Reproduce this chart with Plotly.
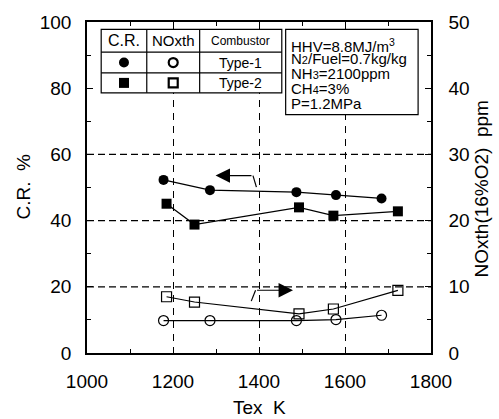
import plotly.graph_objects as go

# Exhaust temperature [K] and measured values
tex_type1 = [1178, 1286, 1487, 1579, 1685]
cr_type1 = [52.3, 49.2, 48.6, 47.7, 46.7]
nox_type1 = [4.9, 4.9, 4.9, 5.05, 5.7]

tex_type2 = [1185, 1250, 1493, 1573, 1723]
cr_type2 = [45.1, 38.8, 44.0, 41.5, 42.8]
nox_type2 = [8.5, 7.7, 5.9, 6.65, 9.45]

x_ticks = [1000, 1200, 1400, 1600, 1800]
cr_ticks = [0, 20, 40, 60, 80, 100]
nox_ticks = [0, 10, 20, 30, 40, 50]

SMALL = "<span style='font-size:11px'>{}</span>"
conditions = [
    "HHV=8.8MJ/m<sup>3</sup>",
    "N" + SMALL.format("2") + "/Fuel=0.7kg/kg",
    "NH" + SMALL.format("3") + "=2100ppm",
    "CH" + SMALL.format("4") + "=3%",
    "P=1.2MPa",
]

FONT = "Arial, Liberation Sans, sans-serif"
BLACK = "black"

W, H = 499, 419
L, R, T, B = 87, 68, 17, 66
pw, ph = W - L - R, H - T - B


def px_to_paper(px, py):
    """Pixel position in the figure -> paper coordinates of the plot area."""
    return (px - L) / pw, (H - B - py) / ph


fig = go.Figure()

line_style = dict(color=BLACK, width=1.2)
fig.add_trace(go.Scatter(x=tex_type1, y=cr_type1, mode="lines+markers", line=line_style,
                         marker=dict(symbol="circle", size=10, color=BLACK), yaxis="y"))
fig.add_trace(go.Scatter(x=tex_type2, y=cr_type2, mode="lines+markers", line=line_style,
                         marker=dict(symbol="square", size=10, color=BLACK), yaxis="y"))
fig.add_trace(go.Scatter(x=tex_type1, y=nox_type1, mode="lines+markers", line=line_style,
                         marker=dict(symbol="circle-open", size=10, color=BLACK,
                                     line=dict(width=1.2, color=BLACK)), yaxis="y2"))
fig.add_trace(go.Scatter(x=tex_type2, y=nox_type2, mode="lines+markers", line=line_style,
                         marker=dict(symbol="square-open", size=10, color=BLACK,
                                     line=dict(width=1.2, color=BLACK)), yaxis="y2"))

shapes = []
# horizontal dashed grid lines
for v in [20, 40, 60]:
    shapes.append(dict(type="line", xref="x", yref="y", x0=1000, x1=1800, y0=v, y1=v,
                       line=dict(color=BLACK, width=1.2, dash="7px,4px"), layer="below"))

# legend table
tx0, tx1, tx2, tx3 = 1033, 1139, 1262, 1453
ty0, ty1, ty2, ty3 = 97.8, 90.9, 84.6, 78.6
shapes.append(dict(type="rect", xref="x", yref="y", x0=tx0, x1=tx3, y0=ty3, y1=ty0,
                   fillcolor="white", line=dict(color=BLACK, width=1.2), layer="above"))
for yy in [ty1, ty2]:
    shapes.append(dict(type="line", xref="x", yref="y", x0=tx0, x1=tx3, y0=yy, y1=yy,
                       line=dict(color=BLACK, width=1.2), layer="above"))
for xx in [tx1, tx2]:
    shapes.append(dict(type="line", xref="x", yref="y", x0=xx, x1=xx, y0=ty3, y1=ty0,
                       line=dict(color=BLACK, width=1.2), layer="above"))

c1, c2, c3 = (tx0 + tx1) / 2, (tx1 + tx2) / 2, (tx2 + tx3) / 2
r0, r1, r2 = (ty0 + ty1) / 2, (ty1 + ty2) / 2, (ty2 + ty3) / 2

# legend symbols (pixel-sized, anchored in the table cells)
for cx, cy, kind, filled in [(c1, r1, "circle", True), (c2, r1, "circle", False),
                             (c1, r2, "rect", True), (c2, r2, "rect", False)]:
    half = 5 if filled else 4.5
    shapes.append(dict(type=kind, xref="x", yref="y", xsizemode="pixel", ysizemode="pixel",
                       xanchor=cx, yanchor=cy, x0=-half, x1=half, y0=-half, y1=half,
                       fillcolor=BLACK if filled else "white",
                       line=dict(color=BLACK, width=0 if filled else 2.2), layer="above"))

# condition box
shapes.append(dict(type="rect", xref="x", yref="y", x0=1462, x1=1770, y0=72, y1=97.8,
                   fillcolor="white", line=dict(color=BLACK, width=1.2), layer="above"))

# leader bends of the arrows
shapes.append(dict(type="line", xref="x", yref="y", x0=1394, x1=1386, y0=50.1, y1=53.6,
                   line=dict(color=BLACK, width=1.2)))
shapes.append(dict(type="line", xref="x", yref="y2", x0=1382, x1=1392, y0=7.84, y1=9.48,
                   line=dict(color=BLACK, width=1.2)))

annotations = []
# arrows pointing to the axis of each group
annotations.append(dict(x=1299, y=53.6, ax=1386, ay=53.6, xref="x", yref="y", axref="x", ayref="y",
                        text="", showarrow=True, arrowhead=2, arrowsize=2.4, arrowwidth=1.2,
                        arrowcolor=BLACK, standoff=0, startstandoff=0))
annotations.append(dict(x=1479, y=9.48, ax=1392, ay=9.48, xref="x", yref="y2", axref="x", ayref="y2",
                        text="", showarrow=True, arrowhead=2, arrowsize=2.4, arrowwidth=1.2,
                        arrowcolor=BLACK, standoff=0, startstandoff=0))

# legend table texts
table_cells = [
    (c1, r0, "C.R.", 16), (c2, r0, "NOxth", 15), (c3, r0, "Combustor", 12),
    (c3, r1, "Type-1", 14), (c3, r2, "Type-2", 14),
]
for cx, cy, txt, fs in table_cells:
    annotations.append(dict(x=cx, y=cy, xref="x", yref="y", text=txt, showarrow=False,
                            xanchor="center", yanchor="middle",
                            font=dict(family=FONT, size=fs, color=BLACK)))

cond_y = [93.0, 88.9, 84.4, 80.0, 75.5]
for cy, txt in zip(cond_y, conditions):
    annotations.append(dict(x=1470, y=cy, xref="x", yref="y", text=txt, showarrow=False,
                            xanchor="left", yanchor="middle",
                            font=dict(family=FONT, size=15, color=BLACK)))

# axis titles
for (px, py), txt, ang in [((24, 184), "C.R.\u00a0\u00a0%", -90),
                           ((259, 408), "Tex\u00a0\u00a0K", 0),
                           ((481, 187), "NOxth(16%O2)\u00a0\u00a0ppm", -90)]:
    ax_, ay_ = px_to_paper(px, py)
    annotations.append(dict(x=ax_, y=ay_, xref="paper", yref="paper", text=txt, showarrow=False,
                            xanchor="center", yanchor="middle", textangle=ang,
                            font=dict(family=FONT, size=19, color=BLACK)))

axis_common = dict(showline=True, linecolor=BLACK, linewidth=1.5, ticks="inside", ticklen=6,
                   tickcolor=BLACK, tickwidth=1.2, zeroline=False,
                   tickfont=dict(family=FONT, size=19, color=BLACK))

fig.update_layout(
    width=W, height=H,
    margin=dict(l=L, r=R, t=T, b=B, pad=0),
    paper_bgcolor="white", plot_bgcolor="white",
    showlegend=False,
    xaxis=dict(range=[1000, 1800], tickvals=x_ticks, mirror="ticks",
               showgrid=True, gridcolor=BLACK, gridwidth=1.2, griddash="7px,6px",
               minor=dict(ticks="inside", ticklen=4, dtick=100, tick0=1000, tickcolor=BLACK, showgrid=False),
               ticklabelstandoff=10, **axis_common),
    yaxis=dict(range=[0, 100], tickvals=cr_ticks, showgrid=False, mirror=False,
               minor=dict(ticks="inside", ticklen=4, dtick=10, tick0=0, tickcolor=BLACK),
               ticklabelstandoff=10, **axis_common),
    yaxis2=dict(range=[0, 50], tickvals=nox_ticks, overlaying="y", side="right", showgrid=False,
                minor=dict(ticks="inside", ticklen=4, dtick=5, tick0=0, tickcolor=BLACK),
                ticklabelstandoff=12, **axis_common),
    shapes=shapes,
    annotations=annotations,
)

fig.write_html("out.html")
